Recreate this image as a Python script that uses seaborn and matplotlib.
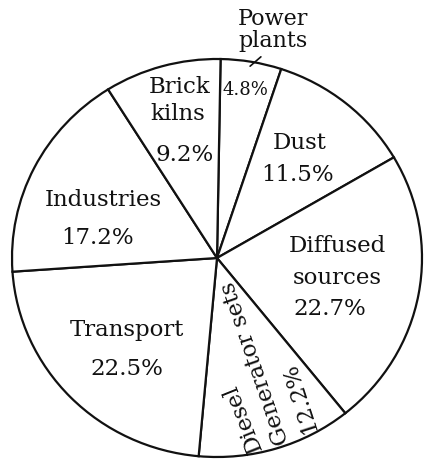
import matplotlib
matplotlib.use("Agg")
import matplotlib.pyplot as plt
import seaborn as sns

categories = ["Power plants", "Dust", "Diffused sources", "Diesel Generator sets",
              "Transport", "Industries", "Brick kilns"]
shares = [4.8, 11.5, 22.7, 12.2, 22.5, 17.2, 9.2]
pct_labels = ["4.8%", "11.5%", "22.7%", "12.2%", "22.5%", "17.2%", "9.2%"]

sns.set_theme(style="white")
plt.rcParams["font.family"] = ["DejaVu Serif"]

W, H = 427, 461
fig = plt.figure(figsize=(W / 100, H / 100), dpi=100)
ax = fig.add_axes([0, 0, 1, 1])

cx, cy, rx, ry = 217, 258, 205, 199

def px(x, y):
    return ((x - cx) / rx, (cy - y) / ry)

ax.pie(shares, startangle=89, counterclock=False,
       colors=["white"] * len(shares),
       wedgeprops=dict(edgecolor="#111111", linewidth=1.6))
ax.set_aspect("auto")
ax.set_xlim(-cx / rx, (W - cx) / rx)
ax.set_ylim((cy - H) / ry, cy / ry)
ax.axis("off")

fs = 16.5
txt = dict(ha="center", va="center", fontsize=fs, color="#111111")

def put(x, y, s, **kw):
    d = dict(txt)
    d.update(kw)
    ax.text(*px(x, y), s, **d)

# Power plants
put(273, 30, "Power\nplants", linespacing=1.05, fontsize=16)
ax.annotate("", xy=px(248, 68), xytext=px(263, 55),
            arrowprops=dict(arrowstyle="-", color="#111111", lw=1.2))
put(245, 90, pct_labels[0], fontsize=13)
# Dust
put(300, 143, "Dust")
put(298, 175, pct_labels[1])
# Diffused sources
put(337, 246, "Diffused")
put(337, 278, "sources")
put(330, 309, pct_labels[2])
# Diesel Generator sets
put(243, 418, "Diesel", rotation=112, rotation_mode="anchor")
put(255, 363, "Generator sets", rotation=109, rotation_mode="anchor")
put(299, 397, pct_labels[3], rotation=108, rotation_mode="anchor")
# Transport
put(127, 330, "Transport")
put(127, 369, pct_labels[4])
# Industries
put(103, 200, "Industries")
put(98, 238, pct_labels[5])
# Brick kilns
put(180, 87, "Brick")
put(178, 114, "kilns")
put(185, 155, pct_labels[6])

fig.savefig("out.png", dpi=100, facecolor="white")
